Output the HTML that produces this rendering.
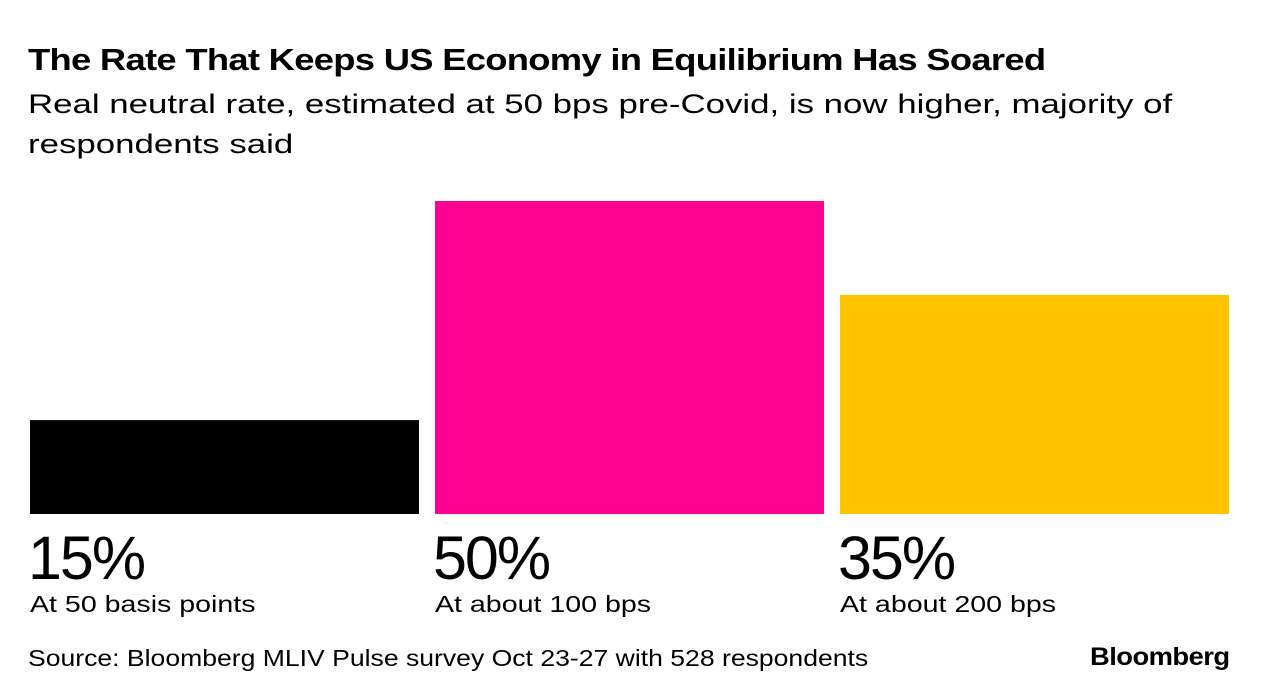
<!DOCTYPE html>
<html><head><meta charset="utf-8"><style>
body{margin:0;width:1267px;height:700px;background:#fff;font-family:"Liberation Sans",sans-serif;color:#000;position:relative;overflow:hidden}
.t{position:absolute;white-space:nowrap;transform-origin:0 0}
</style></head><body>
<div class="t" style="left:28px;top:42px;font-size:31px;font-weight:bold;letter-spacing:-0.6px;transform:scaleX(1.173)">The Rate That Keeps US Economy in Equilibrium Has Soared</div>
<div class="t" style="left:28px;top:84px;font-size:27px;line-height:40px;transform:scaleX(1.29)">Real neutral rate, estimated at 50 bps pre-Covid, is now higher, majority of<br>respondents said</div>
<svg id="chart" width="1267" height="700" style="position:absolute;left:0;top:0"></svg>
<div class="t" style="left:28px;top:645px;font-size:23px;transform:scaleX(1.155)">Source: Bloomberg MLIV Pulse survey Oct 23-27 with 528 respondents</div>
<div class="t" style="left:1090px;top:643px;font-size:25px;font-weight:bold;letter-spacing:-0.5px;transform:scaleX(1.095)">Bloomberg</div>
<script>
const categories=["At 50 basis points","At about 100 bps","At about 200 bps"];
const values=[15,50,35];
const valueLabels=["15%","50%","35%"];
const colors=["#000000","#ff0090","#ffc300"];
const svg=document.getElementById('chart');
const NS='http://www.w3.org/2000/svg';
const base=514,pxPer=6.26,x0=30,bw=389,gap=16;
function y(v){return base-v*pxPer;}
function x(i){return x0+i*(bw+gap);}
values.forEach((v,i)=>{
 const r=document.createElementNS(NS,'rect');
 
 
 r.setAttribute('x',x(i));r.setAttribute('y',y(v));r.setAttribute('width',bw);r.setAttribute('height',base-y(v));r.setAttribute('fill',colors[i]);
 svg.appendChild(r);
 const t=document.createElementNS(NS,'text');
 
 
 t.setAttribute('x',x(i)-2);t.setAttribute('y',579);t.setAttribute('font-size','61');t.setAttribute('letter-spacing','-2');
 t.setAttribute('font-family','Liberation Sans, sans-serif');t.textContent=valueLabels[i];
 svg.appendChild(t);
 const c=document.createElementNS(NS,'text');
 
 
 c.setAttribute('x',x(i));c.setAttribute('y',612);c.setAttribute('font-size','23.5');
 c.setAttribute('transform','translate('+x(i)+',0) scale(1.216,1) translate('+(-x(i))+',0)');
 c.setAttribute('font-family','Liberation Sans, sans-serif');c.textContent=categories[i];
 svg.appendChild(c);
});
</script>
</body></html>
